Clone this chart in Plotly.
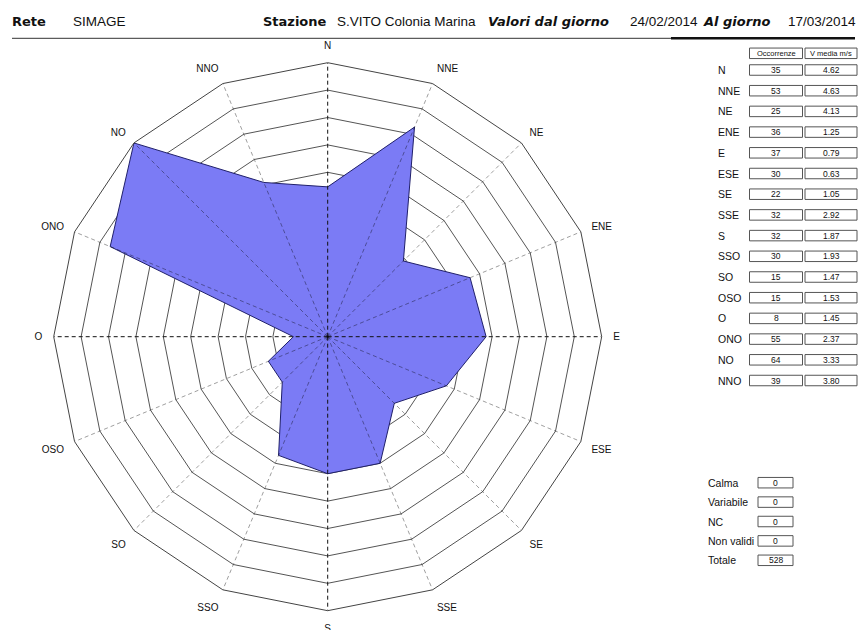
import plotly.graph_objects as go

# ---------------- data ----------------
directions = ["N", "NNE", "NE", "ENE", "E", "ESE", "SE", "SSE",
              "S", "SSO", "SO", "OSO", "O", "ONO", "NO", "NNO"]
occorrenze = [35, 53, 25, 36, 37, 30, 22, 32, 32, 30, 15, 15, 8, 55, 64, 39]
v_media = [4.62, 4.63, 4.13, 1.25, 0.79, 0.63, 1.05, 2.92,
           1.87, 1.93, 1.47, 1.53, 1.45, 2.37, 3.33, 3.80]
extra_labels = ["Calma", "Variabile", "NC", "Non validi", "Totale"]
extra_values = [0, 0, 0, 0, 528]
header_items = [("Rete", "b"), ("SIMAGE", ""), ("Stazione", "b"),
                ("S.VITO Colonia Marina", ""), ("Valori dal giorno", "bi"),
                ("24/02/2014", ""), ("Al giorno", "bi"), ("17/03/2014", "")]

W, H = 858, 630
FONT = "Liberation Sans, Arial, sans-serif"
BOLD_FONT = "DejaVu Sans, Liberation Sans, sans-serif"
rmax = max(occorrenze)
n_rings = 10

def px(x):
    return x / W

def py(y):
    return 1 - y / H

fig = go.Figure()

# filled rose
fig.add_trace(go.Scatterpolar(
    r=occorrenze + occorrenze[:1], theta=directions + directions[:1],
    mode="lines", fill="toself", fillcolor="#7b7bf5",
    line=dict(color="#20206a", width=1), hoverinfo="skip", showlegend=False))

# spokes on top of the fill
for d in directions:
    main = d in ("N", "E", "S", "O")
    fig.add_trace(go.Scatterpolar(
        r=[0, rmax], theta=[d, d], mode="lines",
        line=dict(color="#111111" if main else "rgba(0,0,0,0.38)",
                  width=1, dash="4px,3px"),
        hoverinfo="skip", showlegend=False))

# centre dot
fig.add_trace(go.Scatterpolar(r=[0], theta=["N"], mode="markers",
                              marker=dict(color="black", size=5),
                              hoverinfo="skip", showlegend=False))

cx, cy, R = 327.7, 336.7, 274
fig.update_layout(
    width=W, height=H, margin=dict(l=0, r=0, t=0, b=0, autoexpand=False),
    paper_bgcolor="white", plot_bgcolor="white",
    font=dict(family=FONT, color="#111"),
    polar=dict(
        domain=dict(x=[px(cx - R), px(cx + R)], y=[(H - cy - R) / H, (H - cy + R) / H]),
        bgcolor="white", gridshape="linear",
        radialaxis=dict(range=[0, rmax], tickvals=[rmax * k / n_rings for k in range(1, n_rings)],
                        showticklabels=False, ticks="", showline=False,
                        gridcolor="#555", gridwidth=1),
        angularaxis=dict(type="category", categoryarray=directions,
                         direction="clockwise", rotation=90,
                         showgrid=False, showline=True, linecolor="#444", linewidth=1,
                         ticks="outside", ticklen=9, tickcolor="rgba(0,0,0,0)",
                         tickfont=dict(family=FONT, size=10, color="#111")),
    ),
)

annotations = []
shapes = []

# header
header_x = [10, 71, 261, 335, 486, 628, 701, 786]
for (txt, style), x in zip(header_items, header_x):
    t = txt
    fnt = dict(family=FONT, size=13.5, color="#111")
    if "b" in style:
        t = "<b>" + t + "</b>"
        fnt = dict(family=BOLD_FONT, size=13, color="#111")
    if "i" in style:
        t = "<i>" + t + "</i>"
    annotations.append(dict(x=px(x), y=py(21.5), xref="paper", yref="paper",
                            text=t, showarrow=False, xanchor="left", yanchor="middle",
                            font=fnt))
shapes.append(dict(type="line", xref="paper", yref="paper",
                   x0=px(12), x1=px(855), y0=py(38.3), y1=py(38.3),
                   line=dict(color="#333", width=1)))
shapes.append(dict(type="line", xref="paper", yref="paper",
                   x0=px(671), x1=px(855), y0=py(38.3), y1=py(38.3),
                   line=dict(color="#111", width=2.5)))

box_line = dict(color="#555", width=1)

def box(x0, x1, yc, h=10.5):
    shapes.append(dict(type="rect", xref="paper", yref="paper",
                       x0=px(x0), x1=px(x1), y0=py(yc - h / 2), y1=py(yc + h / 2),
                       line=box_line, fillcolor="white"))

def label(x, y, txt, size, anchor="left"):
    annotations.append(dict(x=px(x), y=py(y), xref="paper", yref="paper",
                            text=txt, showarrow=False, xanchor=anchor, yanchor="middle",
                            font=dict(family=FONT, size=size, color="#111")))

# direction table
occ_x0, occ_x1 = 749.5, 802.5
v_x0, v_x1 = 805, 857
hy = 53.3
box(occ_x0, occ_x1, hy)
box(v_x0, v_x1, hy)
label((occ_x0 + occ_x1) / 2, hy, "Occorrenze", 7.5, "center")
label((v_x0 + v_x1) / 2, hy, "V media m/s", 7.5, "center")
for i, (d, o, v) in enumerate(zip(directions, occorrenze, v_media)):
    yc = 70 + 20.7 * i
    label(716, yc, d, 10.5)
    box(occ_x0, occ_x1, yc)
    box(v_x0, v_x1, yc)
    label((occ_x0 + occ_x1) / 2, yc, str(o), 8.5, "center")
    label((v_x0 + v_x1) / 2, yc, f"{v:.2f}", 8.5, "center")

# extra table
for i, (lab, val) in enumerate(zip(extra_labels, extra_values)):
    yc = 482.7 + 19.4 * i
    label(706, yc, lab, 10.5)
    box(758, 793, yc)
    label(775.5, yc, str(val), 8.5, "center")

fig.update_layout(annotations=annotations, shapes=shapes)
fig.write_html("out.html", config={"displayModeBar": False},
               post_script="document.body.style.margin='0';document.body.style.padding='0';")
